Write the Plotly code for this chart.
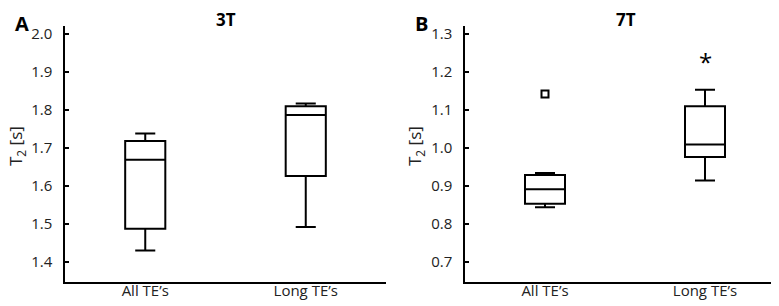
import plotly.graph_objects as go

categories = ["All TE’s", "Long TE’s"]

# Panel A (3T)
a_lower = [1.430, 1.492]
a_q1 = [1.487, 1.626]
a_median = [1.669, 1.787]
a_q3 = [1.718, 1.810]
a_upper = [1.738, 1.817]

# Panel B (7T)
b_lower = [0.844, 0.914]
b_q1 = [0.853, 0.976]
b_median = [0.891, 1.009]
b_q3 = [0.929, 1.110]
b_upper = [0.934, 1.153]
b_outlier_cat = ["All TE’s"]
b_outlier_val = [1.142]
b_star_cat = "Long TE’s"
b_star_val = 1.208

a_ticks = [1.4, 1.5, 1.6, 1.7, 1.8, 1.9, 2.0]
b_ticks = [0.7, 0.8, 0.9, 1.0, 1.1, 1.2, 1.3]

FONT = "Open Sans"
W, H = 779, 306
T, B = 18, 32
PH = H - T - B


def py(pix):
    return (H - B - pix) / PH


fig = go.Figure()

box_style = dict(
    line=dict(color="black", width=2),
    fillcolor="rgba(0,0,0,0)",
    whiskerwidth=0.5,
    width=0.25,
    boxpoints=False,
    showlegend=False,
    hoverinfo="skip",
)

fig.add_trace(go.Box(x=categories, q1=a_q1, median=a_median, q3=a_q3,
                     lowerfence=a_lower, upperfence=a_upper,
                     xaxis="x", yaxis="y", **box_style))
fig.add_trace(go.Box(x=categories, q1=b_q1, median=b_median, q3=b_q3,
                     lowerfence=b_lower, upperfence=b_upper,
                     xaxis="x2", yaxis="y2", **box_style))
fig.add_trace(go.Scatter(x=b_outlier_cat, y=b_outlier_val, mode="markers",
                         marker=dict(symbol="square-open", size=7,
                                     color="black", line=dict(width=2)),
                         xaxis="x2", yaxis="y2", showlegend=False))

axis_common = dict(
    showgrid=False, zeroline=False, showline=True,
    linecolor="black", linewidth=1.5,
    tickfont=dict(family=FONT, size=15, color="#222"),
    automargin=False,
)
x_common = dict(range=[-0.5, 1.5], type="category", ticks="", ticklabelstandoff=-6)
y_common = dict(domain=[0, 1], tickformat=".1f", ticks="inside", ticklen=4,
                tickwidth=1.5, tickcolor="black", ticklabelstandoff=8)

fig.update_layout(
    width=W, height=H,
    margin=dict(l=0, r=0, t=T, b=B),
    paper_bgcolor="white", plot_bgcolor="white",
    font=dict(family=FONT, color="black"),
    xaxis=dict(domain=[57 / W, 378 / W], anchor="y", **x_common, **axis_common),
    yaxis=dict(range=[1.347, 2.021], tickvals=a_ticks, anchor="x",
               **y_common, **axis_common),
    xaxis2=dict(domain=[457 / W, 777 / W], anchor="y2", **x_common, **axis_common),
    yaxis2=dict(range=[0.647, 1.321], tickvals=b_ticks, anchor="x2",
                **y_common, **axis_common),
)

ann = []
for txt, xp, ypix, size in [("<b>A</b>", 14, 15, 20), ("<b>B</b>", 413, 15, 20),
                             ("<b>3T</b>", 218, 11, 17), ("<b>7T</b>", 618, 11, 17)]:
    ann.append(dict(text=txt, x=xp / W, y=py(ypix), xref="paper", yref="paper",
                    showarrow=False, font=dict(family=FONT, size=size, color="black"),
                    xanchor="center", yanchor="middle"))
for xp in [8, 407]:
    ann.append(dict(text="T<sub>2</sub> [s]", x=xp / W, y=py(138),
                    xref="paper", yref="paper", textangle=-90, showarrow=False,
                    font=dict(family=FONT, size=17, color="#222"),
                    xanchor="center", yanchor="middle"))
ann.append(dict(text="*", x=b_star_cat, y=b_star_val, xref="x2", yref="y2",
                showarrow=False, font=dict(family=FONT, size=24, color="black"),
                xanchor="center", yanchor="middle", yshift=7))
fig.update_layout(annotations=ann)

fig.write_html("out.html")
